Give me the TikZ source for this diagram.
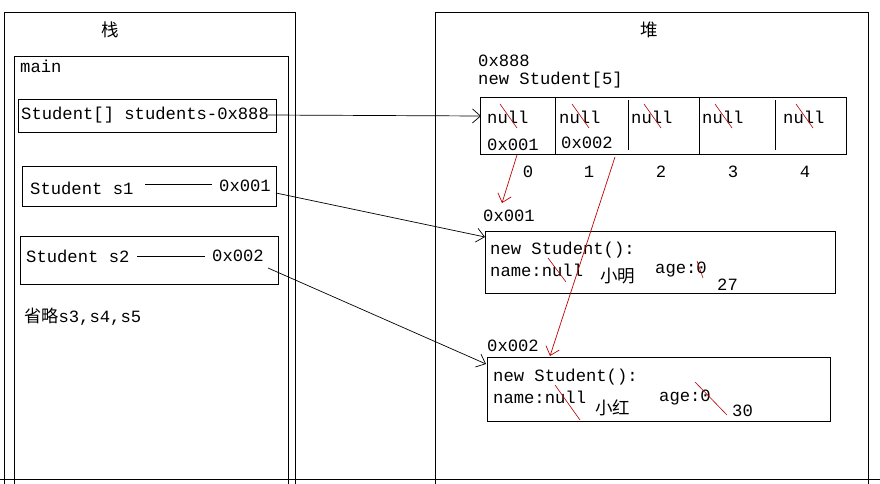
\documentclass[tikz,border=0pt]{standalone}
\usepackage{fontspec}
\usetikzlibrary{arrows.meta}
\setmainfont{Liberation Mono}
\newfontfamily\cjk{Noto Sans CJK SC}
\begin{document}
\begin{tikzpicture}[x=1pt,y=-1pt,
  box/.style={draw,line width=0.8pt},
  t/.style={anchor=west,inner sep=0pt,font=\fontsize{17.2}{18}\selectfont},
  c/.style={anchor=west,inner sep=0pt,font=\fontsize{17.5}{18}\cjk},
  arr/.style={-{Straight Barb[length=8pt,width=14pt]},line width=0.7pt},
  strike/.style={red!70!black,line width=0.6pt}]
\useasboundingbox (0,0) rectangle (880,484);
\fill[white] (0,0) rectangle (880,484);
% outer boxes
\draw[box] (4,12) rectangle (295,490);
\draw[box] (435,12) rectangle (868,490);
\draw[box] (0,479) -- (880,479);
\node[c] (zhan) at (101,30) {栈};
\node[c] (dui) at (640,30) {堆};
\draw[box] (14,56) rectangle (288,490);
\node[t] (main) at (20,66) {main};
% stack items
\draw[box] (18,99) rectangle (276,132);
\node[t] (arr) at (21,115) {Student[] students-0x888};
\coordinate (arrE) at (268,115);
\draw[box] (22,166) rectangle (276,206);
\node[t] (s1) at (30,188) {Student s1};
\draw (145,184) -- (212,184);
\node[t] (s1v) at (219,186) {0x001};
\coordinate (s1E) at (276,193);
\draw[box] (20,236) rectangle (278,284);
\node[t] (s2) at (26,256) {Student s2};
\draw (137,256) -- (205,256);
\node[t] (s2v) at (212,256) {0x002};
\coordinate (s2E) at (268,268);
\node[t] (omit) at (24,317) {{\cjk 省略}s3,s4,s5};
% heap array
\node[t] (a1) at (478,61) {0x888};
\node[t] (a2) at (478,80) {new Student[5]};
\draw[box] (480,97) rectangle (846,154);
\draw[box] (555,97) -- (555,154);
\draw[box] (628,100) -- (628,150);
\draw[box] (699,97) -- (699,154);
\draw[box] (775,100) -- (775,150);
\coordinate (arrW) at (481,116);
\foreach \x/\i in {487/0,559/1,631/2,702/3,783/4}{
  \node[t] (n\i) at (\x,117) {null};
  \draw[strike] (\x+13,104) -- (\x+30,128);
}
\node[t] (p0) at (487,145) {0x001};
\node[t] (p1) at (561,143) {0x002};
\foreach \x/\i in {528/0,589/1,661/2,733/3,805/4}{
  \node[t,anchor=center] (i\i) at (\x,172) {\i};
}
% object 1
\node[t] (o1a) at (483,216) {0x001};
\draw[box] (485,231) rectangle (835,293);
\coordinate (o1W) at (485,237);
\node[t] (o1b) at (490,250) {new Student():};
\node[t] (o1c) at (490,270) {name:null};
\draw[strike] (548,258) -- (566,282);
\node[c] (o1d) at (600,276) {小明};
\node[t] (o1e) at (655,270) {age:0};
\draw[strike] (697,261) -- (703,278);
\node[t] (o1f) at (717,285) {27};
% object 2
\node[t] (o2a) at (487,346) {0x002};
\draw[box] (487,357) rectangle (830,421);
\coordinate (o2W) at (486,364);
\node[t] (o2b) at (493,377) {new Student():};
\node[t] (o2c) at (493,397) {name:null};
\draw[strike] (555,385) -- (580,420);
\node[c] (o2d) at (595,408) {小红};
\node[t] (o2e) at (659,398) {age:0};
\draw[strike] (695,382) -- (727,415);
\node[t] (o2f) at (732,411) {30};
% arrows
\draw[arr] (arrE) -- (arrW);
\draw[arr] (s1E) -- (o1W);
\draw[arr] (s2E) -- (o2W);
\coordinate (r1s) at (517,155); \coordinate (r1e) at (502,203);
\coordinate (r2s) at (615,157); \coordinate (r2e) at (550,356);
\draw[arr,red!75!black] (r1s) -- (r1e);
\draw[arr,red!75!black] (r2s) -- (r2e);
\end{tikzpicture}
\end{document}
